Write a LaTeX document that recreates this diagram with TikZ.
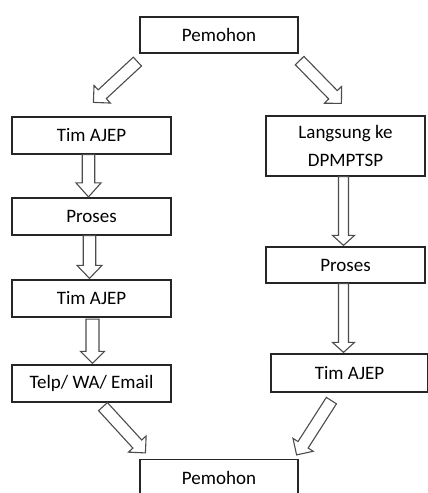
\documentclass[tikz,border=0pt]{standalone}
\usepackage{fontspec}
\setmainfont{Carlito}
\usetikzlibrary{calc}
\tikzset{
  box/.style={draw=black!85, line width=1.2pt, fill=white, inner sep=0pt,
    minimum width=159pt, minimum height=37pt, align=center,
    font=\fontsize{19}{28}\selectfont},
  barrow/.style={draw=black!70, line width=1.1pt, fill=white, line join=miter}
}
\newcommand{\blockarr}[5]{%
  \coordinate (hb) at ($(#2)!#5!(#1)$);
  \draw[barrow] ($(#1)!#3!90:(#2)$) -- ($(hb)!#3!-90:(#1)$) -- ($(hb)!#4!-90:(#1)$)
    -- (#2) -- ($(hb)!#4!90:(#1)$) -- ($(hb)!#3!90:(#1)$) -- ($(#1)!#3!-90:(#2)$) -- cycle;}
\begin{document}
\begin{tikzpicture}[x=1pt,y=-1pt]
\useasboundingbox (0,0) rectangle (428,493);
\clip (0,0) rectangle (428,493);
\fill[white] (0,0) rectangle (428,493);
% nodes
\node[box, minimum width=158pt, minimum height=36pt] (top) at (219,35) {Pemohon};
\node[box] (timL1) at (91.5,135.5) {Tim AJEP};
\node[box, minimum height=60pt] (lang) at (345.5,146) {Langsung ke\\DPMPTSP};
\node[box] (prosL) at (91.5,216.5) {Proses};
\node[box, minimum height=36pt] (prosR) at (345.5,265) {Proses};
\node[box] (timL2) at (91.5,298.5) {Tim AJEP};
\node[box, minimum width=157pt, minimum height=38pt] (timR) at (349.5,373) {Tim AJEP};
\node[box] (telp) at (91.5,383.5) {Telp/ WA/ Email};
\node[box, minimum width=158pt] (bot) at (219,478) {Pemohon};
% connector ends
\coordinate (d1a) at ($(top.south west)+(-2,8)$);
\coordinate (d1b) at ($(timL1.north west)+(82,-14)$);
\coordinate (d2a) at ($(top.south east)+(1,7)$);
\coordinate (d2b) at ($(lang.north west)+(76,-12)$);
\coordinate (a1a) at ([xshift=-3pt]timL1.south);
\coordinate (a1b) at ([xshift=-3pt,yshift=0.5pt]prosL.north);
\coordinate (a2a) at ([xshift=-2pt]prosL.south);
\coordinate (a2b) at ([xshift=-2pt,yshift=1pt]timL2.north);
\coordinate (a3a) at ([xshift=1pt,yshift=-1.5pt]timL2.south);
\coordinate (a3b) at ([xshift=1pt,yshift=1pt]telp.north);
\coordinate (a4a) at ([xshift=-2pt]lang.south);
\coordinate (a4b) at ([xshift=-2pt,yshift=1pt]prosR.north);
\coordinate (a5a) at ([xshift=-2pt]prosR.south);
\coordinate (a5b) at ([xshift=-6pt,yshift=1pt]timR.north);
\coordinate (d3a) at ($(telp.south)+(11.5,4)$);
\coordinate (d3b) at ($(bot.north west)+(6,-6)$);
\coordinate (d4a) at ($(timR.south west)+(61,8)$);
\coordinate (d4b) at ($(bot.north east)+(-2,-4)$);
% arrows
\blockarr{d1a}{d1b}{6pt}{12pt}{12pt}
\blockarr{d2a}{d2b}{6pt}{12pt}{12pt}
\blockarr{a1a}{a1b}{6.25pt}{12.5pt}{14pt}
\blockarr{a2a}{a2b}{6.25pt}{12.5pt}{13pt}
\blockarr{a3a}{a3b}{6.5pt}{12pt}{12pt}
\blockarr{a4a}{a4b}{5pt}{11pt}{10pt}
\blockarr{a5a}{a5b}{5pt}{11pt}{10pt}
\blockarr{d3a}{d3b}{6pt}{12pt}{12pt}
\blockarr{d4a}{d4b}{6pt}{12pt}{12pt}
\end{tikzpicture}
\end{document}
